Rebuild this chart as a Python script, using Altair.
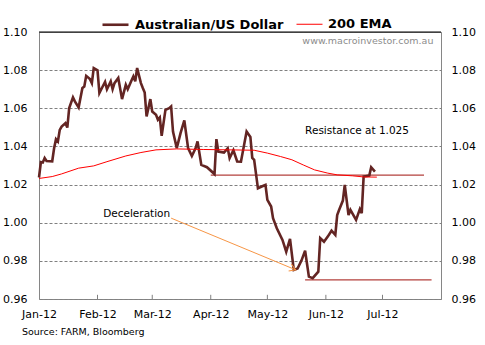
import altair as alt
import pandas as pd

# ---------------- data ----------------
aud_dates = [
    "2012-01-01", "2012-01-02", "2012-01-03", "2012-01-04", "2012-01-05", "2012-01-08",
    "2012-01-09", "2012-01-10", "2012-01-11", "2012-01-12", "2012-01-13", "2012-01-15",
    "2012-01-16", "2012-01-17", "2012-01-19", "2012-01-20", "2012-01-22", "2012-01-24",
    "2012-01-25", "2012-01-26", "2012-01-28", "2012-01-29", "2012-01-30", "2012-02-01",
    "2012-02-02", "2012-02-03", "2012-02-05", "2012-02-06", "2012-02-08", "2012-02-09",
    "2012-02-10", "2012-02-12", "2012-02-14", "2012-02-16", "2012-02-17", "2012-02-19",
    "2012-02-20", "2012-02-21", "2012-02-22", "2012-02-24", "2012-02-25", "2012-02-26",
    "2012-02-27", "2012-02-29", "2012-03-01", "2012-03-03", "2012-03-04", "2012-03-05",
    "2012-03-06", "2012-03-08", "2012-03-10", "2012-03-11", "2012-03-12", "2012-03-14",
    "2012-03-16", "2012-03-18", "2012-03-20", "2012-03-22", "2012-03-24", "2012-03-25",
    "2012-03-27", "2012-03-30", "2012-04-03", "2012-04-04", "2012-04-05", "2012-04-08",
    "2012-04-10", "2012-04-11", "2012-04-13", "2012-04-15", "2012-04-17", "2012-04-20",
    "2012-04-22", "2012-04-23", "2012-04-24", "2012-04-26", "2012-04-28", "2012-04-30",
    "2012-05-01", "2012-05-03", "2012-05-04", "2012-05-06", "2012-05-09", "2012-05-11",
    "2012-05-13", "2012-05-15", "2012-05-17", "2012-05-19", "2012-05-21", "2012-05-23",
    "2012-05-25", "2012-05-28", "2012-05-29", "2012-05-31", "2012-06-02", "2012-06-04",
    "2012-06-06", "2012-06-07", "2012-06-08", "2012-06-10", "2012-06-11", "2012-06-13",
    "2012-06-14", "2012-06-17", "2012-06-19", "2012-06-20", "2012-06-21", "2012-06-24",
    "2012-06-25", "2012-06-27",
]
aud_values = [
    1.0237, 1.0318, 1.0316, 1.0339, 1.0324, 1.0322,
    1.0390, 1.0438, 1.0426, 1.0487, 1.0504, 1.0522,
    1.0499, 1.0601, 1.0657, 1.0636, 1.0604, 1.0706,
    1.0714, 1.0770, 1.0753, 1.0732, 1.0811, 1.0799,
    1.0680, 1.0700, 1.0738, 1.0700, 1.0741, 1.0700,
    1.0732, 1.0759, 1.0648, 1.0723, 1.0700, 1.0746,
    1.0767, 1.0741, 1.0811, 1.0732, 1.0706, 1.0683,
    1.0557, 1.0648, 1.0583, 1.0566, 1.0540, 1.0552,
    1.0456, 1.0592, 1.0601, 1.0610, 1.0478, 1.0391,
    1.0470, 1.0536, 1.0391, 1.0350, 1.0391, 1.0426,
    1.0303, 1.0291, 1.0255, 1.0438, 1.0373, 1.0368,
    1.0390, 1.0339, 1.0380, 1.0321, 1.0320, 1.0478,
    1.0450, 1.0340, 1.0330, 1.0180, 1.0190, 1.0198,
    1.0120, 1.0085, 1.0024, 0.9971, 0.9910, 0.9848,
    0.9915, 0.9752, 0.9760, 0.9800, 0.9853, 0.9717,
    0.9709, 0.9743, 0.9919, 0.9900, 0.9927, 0.9958,
    0.9936, 1.0040, 1.0067, 1.0116, 1.0198, 1.0040,
    1.0067, 1.0015, 1.0071, 1.0050, 1.0242, 1.0247,
    1.0291, 1.0268,
]

ema_dates = [
    "2012-01-01", "2012-01-08", "2012-01-13", "2012-01-22", "2012-01-30", "2012-02-06",
    "2012-02-16", "2012-02-24", "2012-03-03", "2012-03-14", "2012-03-28", "2012-04-11",
    "2012-04-24", "2012-05-01", "2012-05-08", "2012-05-14", "2012-05-20", "2012-05-26",
    "2012-06-02", "2012-06-07", "2012-06-15", "2012-06-21", "2012-06-28",
]
ema_values = [
    1.0232, 1.0242, 1.0256, 1.0286, 1.0298, 1.0320,
    1.0350, 1.0368, 1.0382, 1.0387, 1.0384, 1.0382,
    1.0380, 1.0365, 1.0347, 1.0330, 1.0303, 1.0277,
    1.0260, 1.0251, 1.0246, 1.0240, 1.0239,
]

series_names = ["Australian/US Dollar", "200 EMA"]
series_colors = ["#632523", "#FF0000"]
series_widths = [2.6, 1.0]

level_start = ["2012-04-01", "2012-05-21"]
level_end = ["2012-07-23", "2012-07-27"]
level_values = [1.025, 0.970]

y_ticks = [0.96, 0.98, 1.00, 1.02, 1.04, 1.06, 1.08, 1.10]
month_ticks = ["2012-02-01", "2012-03-01", "2012-04-01", "2012-05-01", "2012-06-01", "2012-07-01"]

note_text = ["Resistance at 1.025", "Deceleration"]
note_dates = ["2012-05-21", "2012-02-04"]
note_values = [1.0483, 1.0045]

arrow_from_date, arrow_from_value = "2012-03-11", 1.0024
arrow_to_date, arrow_to_value = "2012-05-16", 0.9753

watermark = "www.macroinvestor.com.au"
watermark_date, watermark_value = "2012-07-28", 1.0954
source_text = "Source: FARM, Bloomberg"

# ---------------- chart ----------------
FONT = "DejaVu Sans"

line_df = pd.concat([
    pd.DataFrame({"date": aud_dates, "value": aud_values, "series": series_names[0]}),
    pd.DataFrame({"date": ema_dates, "value": ema_values, "series": series_names[1]}),
], ignore_index=True)
level_df = pd.DataFrame({"start": level_start, "end": level_end, "value": level_values})
tick_df = pd.DataFrame({"date": month_ticks, "lo": [0.96] * len(month_ticks), "hi": [0.9622] * len(month_ticks)})
note_df = pd.DataFrame({"date": note_dates, "value": note_values, "text": note_text})
arrow_df = pd.DataFrame({"d1": [arrow_from_date], "v1": [arrow_from_value],
                         "d2": [arrow_to_date], "v2": [arrow_to_value]})
wm_df = pd.DataFrame({"date": [watermark_date], "value": [watermark_value], "text": [watermark]})
top_df = pd.DataFrame({"v": [1.10]})
src_df = pd.DataFrame({"text": [source_text]})

xscale = alt.Scale(type="utc", domain=[alt.DateTime(year=2012, month=1, date=1, utc=True),
                                       alt.DateTime(year=2012, month=8, date=1, utc=True)])
xaxis = alt.Axis(values=[alt.DateTime(year=2012, month=m, date=1, utc=True) for m in range(1, 8)],
                 format="%b-%y", title=None, grid=False, domain=False, ticks=False, tickSize=0,
                 labelPadding=9, labelFlush=False, labelFont=FONT, labelFontSize=11,
                 labelColor="black")
yscale = alt.Scale(domain=[0.96, 1.10], nice=False, zero=False)
yaxis_left = alt.Axis(values=y_ticks, format=".2f", title=None, orient="left", grid=True,
                      gridDash=[3, 2], gridColor="#808080", gridWidth=1, domain=False,
                      ticks=False, tickSize=0, labelPadding=12, labelFont=FONT,
                      labelFontSize=11, labelColor="black")
yaxis_right = alt.Axis(values=y_ticks, format=".2f", title=None, orient="right", grid=False,
                       domain=False, ticks=False, tickSize=0, labelPadding=10, labelFont=FONT,
                       labelFontSize=11, labelColor="black")


def X(field):
    return alt.X(field, scale=xscale, axis=xaxis)


def Y(field, axis=None):
    return alt.Y(field, scale=yscale, axis=axis)


legend = alt.Legend(orient="none", legendX=62, legendY=-22, direction="horizontal", title=None,
                    symbolType="stroke", symbolSize=676, labelFont=FONT, labelFontSize=13,
                    labelFontWeight="bold", labelColor="black", labelOffset=5, columnPadding=10)

lines = alt.Chart(line_df).mark_line(interpolate="linear").encode(
    x=X("date:T"),
    y=Y("value:Q", yaxis_left),
    color=alt.Color("series:N", scale=alt.Scale(domain=series_names, range=series_colors), legend=legend),
    strokeWidth=alt.StrokeWidth("series:N", scale=alt.Scale(domain=series_names, range=series_widths), legend=legend),
    order=alt.Order("date:T"),
)

levels = alt.Chart(level_df).mark_rule(color="#B3403C", strokeWidth=1.2).encode(
    x=X("start:T"), x2="end:T", y=Y("value:Q")
)

top_rule = alt.Chart(top_df).mark_rule(color="black", strokeWidth=1).encode(
    y=Y("v:Q", yaxis_right)
)

ticks = alt.Chart(tick_df).mark_rule(color="#808080", strokeWidth=1).encode(
    x=X("date:T"), y=Y("lo:Q"), y2="hi:Q"
)

notes = alt.Chart(note_df).mark_text(align="left", baseline="middle", font=FONT, fontSize=10.5,
                                     color="black").encode(
    x=X("date:T"), y=Y("value:Q"), text="text:N"
)

wm = alt.Chart(wm_df).mark_text(align="right", baseline="middle", font=FONT, fontSize=9.5,
                                color="#8C8C8C").encode(
    x=X("date:T"), y=Y("value:Q"), text="text:N"
)

arrow = alt.Chart(arrow_df).mark_rule(color="#F79646", strokeWidth=1).encode(
    x=X("d1:T"), x2="d2:T", y=Y("v1:Q"), y2="v2:Q"
)

arrow_head = alt.Chart(arrow_df).mark_point(shape="M -1 -0.6 L 0 0 L -1 0.6", filled=False,
                                            color="#F79646", strokeWidth=1, size=150,
                                            angle=22, opacity=1).encode(
    x=X("d2:T"), y=Y("v2:Q")
)

source = alt.Chart(src_df).mark_text(align="left", baseline="middle", font=FONT, fontSize=9.5,
                                     color="black").encode(
    x=alt.value(-17), y=alt.value(300), text="text:N"
)

chart = alt.layer(
    levels, ticks, lines, top_rule, notes, wm, arrow, arrow_head, source
).resolve_axis(y="independent").properties(
    width=402, height=267,
    autosize=alt.AutoSizeParams(type="none"),
    padding={"left": 39, "top": 32, "right": 44, "bottom": 46},
    background="white",
).configure_view(stroke="#868686", strokeWidth=1)

chart.save("out.html", embed_options={"renderer": "svg", "actions": False})
